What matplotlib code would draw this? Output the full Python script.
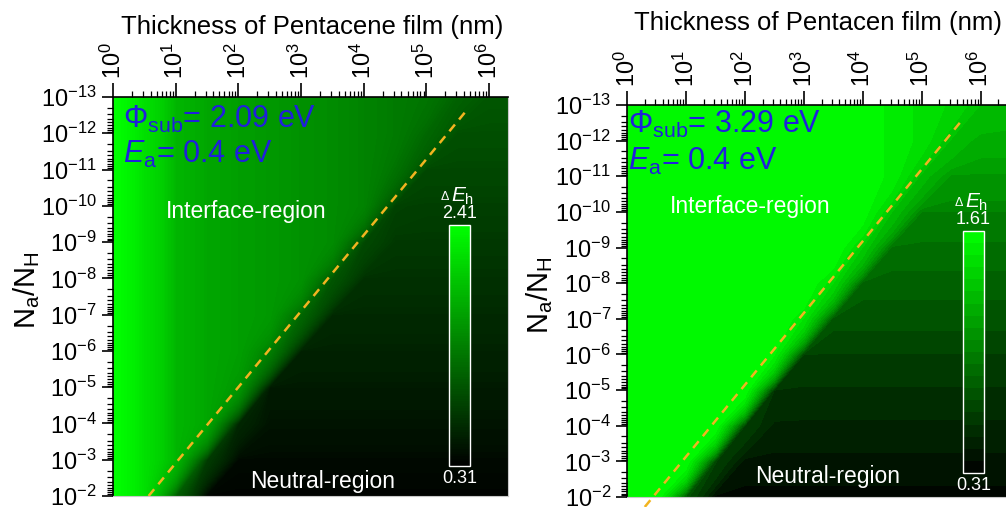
import numpy as np
import matplotlib
matplotlib.use('Agg')
import matplotlib.pyplot as plt
from matplotlib.colors import LinearSegmentedColormap
from matplotlib.ticker import LogLocator, NullFormatter

plt.rcParams['font.family'] = ['Liberation Sans', 'DejaVu Sans']
plt.rcParams['mathtext.fontset'] = 'custom'
plt.rcParams['mathtext.rm'] = 'Liberation Sans'
plt.rcParams['mathtext.it'] = 'Liberation Sans:italic'
plt.rcParams['mathtext.default'] = 'regular'

# ---- data ----
# grid: log10 of film thickness (nm) and log10 of Na/NH
thick_exp = [0, 0.5, 1, 1.5, 2, 2.5, 3, 3.5, 4, 4.5, 5, 5.5, 6, 6.5]
ratio_exp = [-13, -12, -11, -10, -9, -8, -7, -6, -5, -4, -3, -2]

# Delta E_h (eV), one row per Na/NH decade (top -> bottom)
dEh_left = [
    [2.41, 2.15, 1.80, 1.67, 1.61, 1.56, 1.50, 1.45, 1.38, 1.31, 1.26, 1.10, 1.01, 1.01],
    [2.41, 2.15, 1.80, 1.67, 1.61, 1.56, 1.50, 1.45, 1.38, 1.31, 1.15, 0.95, 0.95, 0.95],
    [2.41, 2.15, 1.80, 1.67, 1.61, 1.56, 1.50, 1.45, 1.38, 1.24, 0.89, 0.89, 0.89, 0.89],
    [2.41, 2.15, 1.80, 1.67, 1.61, 1.56, 1.50, 1.45, 1.38, 0.84, 0.82, 0.82, 0.82, 0.82],
    [2.41, 2.15, 1.80, 1.67, 1.61, 1.56, 1.50, 1.45, 0.90, 0.76, 0.76, 0.76, 0.76, 0.76],
    [2.41, 2.15, 1.80, 1.67, 1.61, 1.56, 1.50, 1.00, 0.70, 0.70, 0.70, 0.70, 0.70, 0.70],
    [2.41, 2.15, 1.80, 1.67, 1.61, 1.56, 1.14, 0.64, 0.64, 0.64, 0.64, 0.64, 0.64, 0.64],
    [2.41, 2.15, 1.80, 1.67, 1.61, 1.33, 0.58, 0.58, 0.58, 0.58, 0.58, 0.58, 0.58, 0.58],
    [2.41, 2.15, 1.80, 1.67, 1.54, 0.52, 0.52, 0.52, 0.52, 0.52, 0.52, 0.52, 0.52, 0.52],
    [2.41, 2.15, 1.80, 1.67, 0.62, 0.46, 0.46, 0.46, 0.46, 0.46, 0.46, 0.46, 0.46, 0.46],
    [2.41, 2.15, 1.80, 0.79, 0.38, 0.38, 0.38, 0.38, 0.38, 0.38, 0.38, 0.38, 0.38, 0.38],
    [2.41, 2.15, 1.07, 0.33, 0.33, 0.33, 0.33, 0.33, 0.33, 0.33, 0.33, 0.33, 0.33, 0.33],
]

dEh_right = [
    [1.61, 1.61, 1.61, 1.61, 1.61, 1.61, 1.61, 1.61, 1.58, 1.52, 1.45, 1.40, 1.28, 1.25],
    [1.61, 1.61, 1.61, 1.61, 1.61, 1.61, 1.61, 1.61, 1.58, 1.52, 1.45, 1.27, 1.18, 1.18],
    [1.61, 1.61, 1.61, 1.61, 1.61, 1.61, 1.61, 1.61, 1.58, 1.52, 1.25, 1.07, 1.07, 1.07],
    [1.61, 1.61, 1.61, 1.61, 1.61, 1.61, 1.61, 1.61, 1.58, 1.28, 0.96, 0.96, 0.96, 0.96],
    [1.61, 1.61, 1.61, 1.61, 1.61, 1.61, 1.61, 1.61, 1.34, 0.86, 0.86, 0.86, 0.86, 0.86],
    [1.61, 1.61, 1.61, 1.61, 1.61, 1.61, 1.61, 1.41, 0.78, 0.78, 0.78, 0.78, 0.78, 0.78],
    [1.61, 1.61, 1.61, 1.61, 1.61, 1.61, 1.47, 0.71, 0.71, 0.71, 0.71, 0.71, 0.71, 0.71],
    [1.61, 1.61, 1.61, 1.61, 1.61, 1.55, 0.63, 0.63, 0.63, 0.63, 0.63, 0.63, 0.63, 0.63],
    [1.61, 1.61, 1.61, 1.61, 1.61, 0.57, 0.55, 0.55, 0.55, 0.55, 0.55, 0.55, 0.55, 0.55],
    [1.61, 1.61, 1.61, 1.61, 0.62, 0.48, 0.48, 0.48, 0.48, 0.48, 0.48, 0.48, 0.48, 0.48],
    [1.61, 1.61, 1.61, 0.64, 0.40, 0.40, 0.40, 0.40, 0.40, 0.40, 0.40, 0.40, 0.40, 0.40],
    [1.61, 1.61, 0.72, 0.34, 0.34, 0.34, 0.34, 0.34, 0.34, 0.34, 0.34, 0.34, 0.34, 0.34],
]

# colour-scale limits shown on the bars
range_left = [0.31, 2.41]
range_right = [0.31, 1.61]

# dashed boundary lines (thickness nm, Na/NH)
line_left_thick = [3.7, 4.6e5]
line_left_ratio = [1e-2, 2.1e-13]
line_right_thick = [2.0, 4.9e5]
line_right_ratio = [1.9e-2, 2.6e-13]

phi_left = '2.09'
phi_right = '3.29'
ea = '0.4'

# ---- drawing ----
cmap = LinearSegmentedColormap.from_list('blk_green', ['#000000', '#00ff00'])
blue = '#2020dc'
dash_col = '#f2b420'

thickness = [10 ** e for e in thick_exp]
ratio = [10 ** e for e in ratio_exp]
X, Y = np.meshgrid(thickness, ratio)

W, H = 1006.0, 507.0
fig = plt.figure(figsize=(10.06, 5.07), dpi=100)


def panel(rect, Z, zrange, nlev, xmax, xlabel, title_xy, ylab_xy, phi, lx, ly, cb_rect, txt):
    ax = fig.add_axes(rect)
    ax.set_xscale('log')
    ax.set_yscale('log')
    cs = ax.contourf(X, Y, np.array(Z), levels=np.linspace(zrange[0], zrange[1], nlev + 1), cmap=cmap)
    ax.set_xlim(1, xmax)
    ax.set_ylim(1e-2, 1e-13)

    # ticks
    ax.xaxis.tick_top()
    for a in (ax.xaxis, ax.yaxis):
        a.set_major_locator(LogLocator(base=10, numticks=30))
        a.set_minor_locator(LogLocator(base=10, subs=np.arange(2, 10), numticks=30))
        a.set_minor_formatter(NullFormatter())
    ax.tick_params(which='major', direction='out', length=8, width=1.2, labelsize=17)
    ax.tick_params(which='minor', direction='out', length=4, width=0.9)
    ax.tick_params(axis='x', which='major', labelrotation=90, pad=3, length=10)
    ax.spines['bottom'].set_color('#c8c8c8')
    ax.spines['right'].set_color('#c8c8c8')
    for s in ('top', 'left'):
        ax.spines[s].set_linewidth(1.2)

    # axis titles placed where the figure has them
    fig.text(title_xy[0] / W, 1 - title_xy[1] / H, xlabel, fontsize=18.5,
             ha='center', va='center')
    fig.text(ylab_xy[0] / W, 1 - ylab_xy[1] / H, r'$N_a/N_H$', fontsize=21,
             rotation=90, ha='center', va='center')

    ax.plot(lx, ly, color=dash_col, lw=1.8, dashes=(3.5, 2.6), clip_on=False)

    # annotations
    ax.text(txt[0], txt[1], r'$\Phi_{sub}$= ' + phi + ' eV', transform=ax.transAxes,
            color=blue, fontsize=22, va='baseline')
    ax.text(txt[0], txt[2], r'$\mathit{E}_{a}$= ' + ea + ' eV', transform=ax.transAxes,
            color=blue, fontsize=22, va='baseline')
    ax.text(txt[3], txt[4], 'Interface-region', transform=ax.transAxes,
            color='white', fontsize=16.5, va='baseline')
    ax.text(txt[5], txt[6], 'Neutral-region', transform=ax.transAxes,
            color='white', fontsize=16.5, va='baseline')

    # colour bar inside the plot
    cax = fig.add_axes(cb_rect)
    cb = fig.colorbar(cs, cax=cax)
    cb.set_ticks([])
    cb.ax.minorticks_off()
    cb.outline.set_edgecolor('white')
    cb.outline.set_linewidth(1.0)
    cx = cb_rect[0] + cb_rect[2] / 2
    fig.text(cx, cb_rect[1] + cb_rect[3] + 0.023, '%.2f' % zrange[1], color='white',
             fontsize=13, ha='center', va='center')
    fig.text(cx, cb_rect[1] - 0.025, '%.2f' % zrange[0], color='white',
             fontsize=13, ha='center', va='center')
    fig.text(cb_rect[0] + 0.002, cb_rect[1] + cb_rect[3] + 0.046, r'$\mathit{E}_{h}$',
             color='white', fontsize=15, ha='left', va='baseline')
    fig.text(cb_rect[0] + 0.001, cb_rect[1] + cb_rect[3] + 0.05, r'$\Delta$',
             color='white', fontsize=9, ha='right', va='baseline')
    return ax


panel([0.1123, 0.0217, 0.3926, 0.7870], dEh_left, range_left, 100, 10 ** 6.3,
      'Thickness of Pentacene film (nm)', (312, 27), (27, 290),
      phi_left, line_left_thick, line_left_ratio,
      [0.4463, 0.0809, 0.0209, 0.4753],
      [0.025, 0.922, 0.835, 0.134, 0.697, 0.347, 0.020])

panel([0.6233, 0.0197, 0.3807, 0.7732], dEh_right, range_right, 20, 10 ** 6.5,
      'Thickness of Pentacen film (nm)', (818, 23), (540, 295),
      phi_right, line_right_thick, line_right_ratio,
      [0.9573, 0.0671, 0.0209, 0.4773],
      [0.003, 0.929, 0.834, 0.112, 0.724, 0.334, 0.036])

fig.savefig('out.png', dpi=100)
